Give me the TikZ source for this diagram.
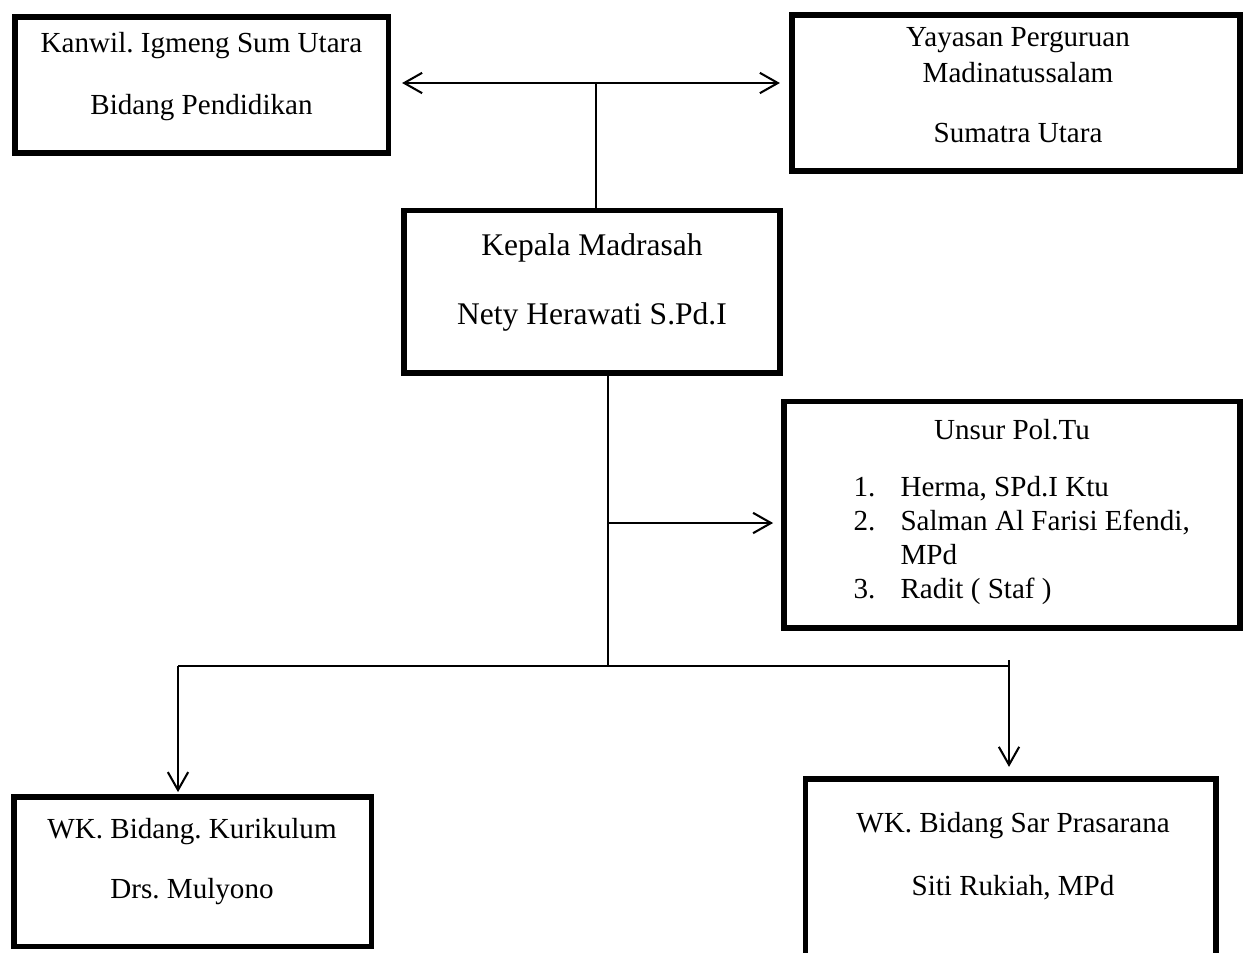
\documentclass[tikz,border=0pt]{standalone}
\usepackage{fontspec}
\setmainfont{Liberation Serif}
\usetikzlibrary{arrows.meta}
\frenchspacing

\tikzset{
  orgbox/.style={draw, line width=2.1pt, inner sep=0pt, outer sep=0pt},
  orgtxt/.style={inner sep=0pt, align=center, font=\fontsize{12}{14.85}\selectfont},
  link/.style={line width=0.85pt},
  arr/.style={link, -{Straight Barb[length=7.4pt,width=8.4pt]}},
}

\begin{document}
\begin{tikzpicture}[x=0.4125pt, y=-0.4125pt]
\clip (0,0) rectangle (1248,952);

% kotak
\node[orgbox, minimum width=153.9pt, minimum height=56.1pt] (kanwil) at (201.5,85) {};
\node[orgbox, minimum width=184.8pt, minimum height=64.35pt] (yayasan) at (1016,93) {};
\node[orgbox, minimum width=155.1pt, minimum height=67.2pt] (kepala) at (592,291.5) {};
\node[orgbox, minimum width=188.1pt, minimum height=93.6pt] (unsur) at (1012,514.5) {};
\node[orgbox, minimum width=147.3pt, minimum height=61.5pt] (kurikulum) at (192.5,871.5) {};
\node[orgbox, minimum width=169.5pt, minimum height=78.8pt] (prasarana) at (1010.5,874.5) {};

% teks
\node[orgtxt] (kanwiltxt) at (201.5,77) {Kanwil. Igmeng Sum Utara\\[10.7pt]Bidang Pendidikan};
\node[orgtxt] (yayasantxt) at (1018,85) {Yayasan Perguruan\\Madinatussalam\\[9.9pt]Sumatra Utara};
\node[orgtxt, font=\fontsize{13}{16}\selectfont] (kepalatxt) at (592,282.5) {Kepala Madrasah\\[12.4pt]Nety Herawati S.Pd.I};
\node[orgtxt] (unsurtxt) at (1012,430) {Unsur Pol.Tu};
\node[orgtxt, anchor=west, font=\fontsize{12}{14}\selectfont] (unsurlist) at (853,541) {%
  \begin{tabular}{@{}p{19.4pt}@{}l@{}}
  1. & Herma, SPd.I Ktu\\
  2. & Salman Al Farisi Efendi,\\
     & MPd\\
  3. & Radit ( Staf )
  \end{tabular}};
\node[orgtxt] (kurikulumtxt) at (192,862) {WK. Bidang. Kurikulum\\[9.9pt]Drs. Mulyono};
\node[orgtxt] (prasaranatxt) at (1013,856.5) {WK. Bidang Sar Prasarana\\[11.1pt]Siti Rukiah, MPd};

% titik sambung
\coordinate (top) at (596,83);
\coordinate (split) at (608,666);
\coordinate (mid) at (608,523);
\coordinate (lft) at (178,666);
\coordinate (rgt) at (1009,666);
\coordinate (rgttop) at (1009,660);

% garis
\draw[link, {Straight Barb[length=7.4pt,width=8.4pt]}-{Straight Barb[length=7.4pt,width=8.4pt]},
  shorten <=5.8pt, shorten >=5pt] (top -| kanwil.east) -- (top -| yayasan.west);
\draw[link] (top) -- (top |- kepala.north);
\draw[link] (split |- kepala.south) -- (split);
\draw[arr, shorten >=4.5pt] (mid) -- (mid -| unsur.west);
\draw[link] (lft) -- (rgt);
\draw[arr, shorten >=2pt] (lft) -- (lft |- kurikulum.north);
\draw[arr, shorten >=5pt] (rgttop) -- (rgttop |- prasarana.north);
\end{tikzpicture}
\end{document}
